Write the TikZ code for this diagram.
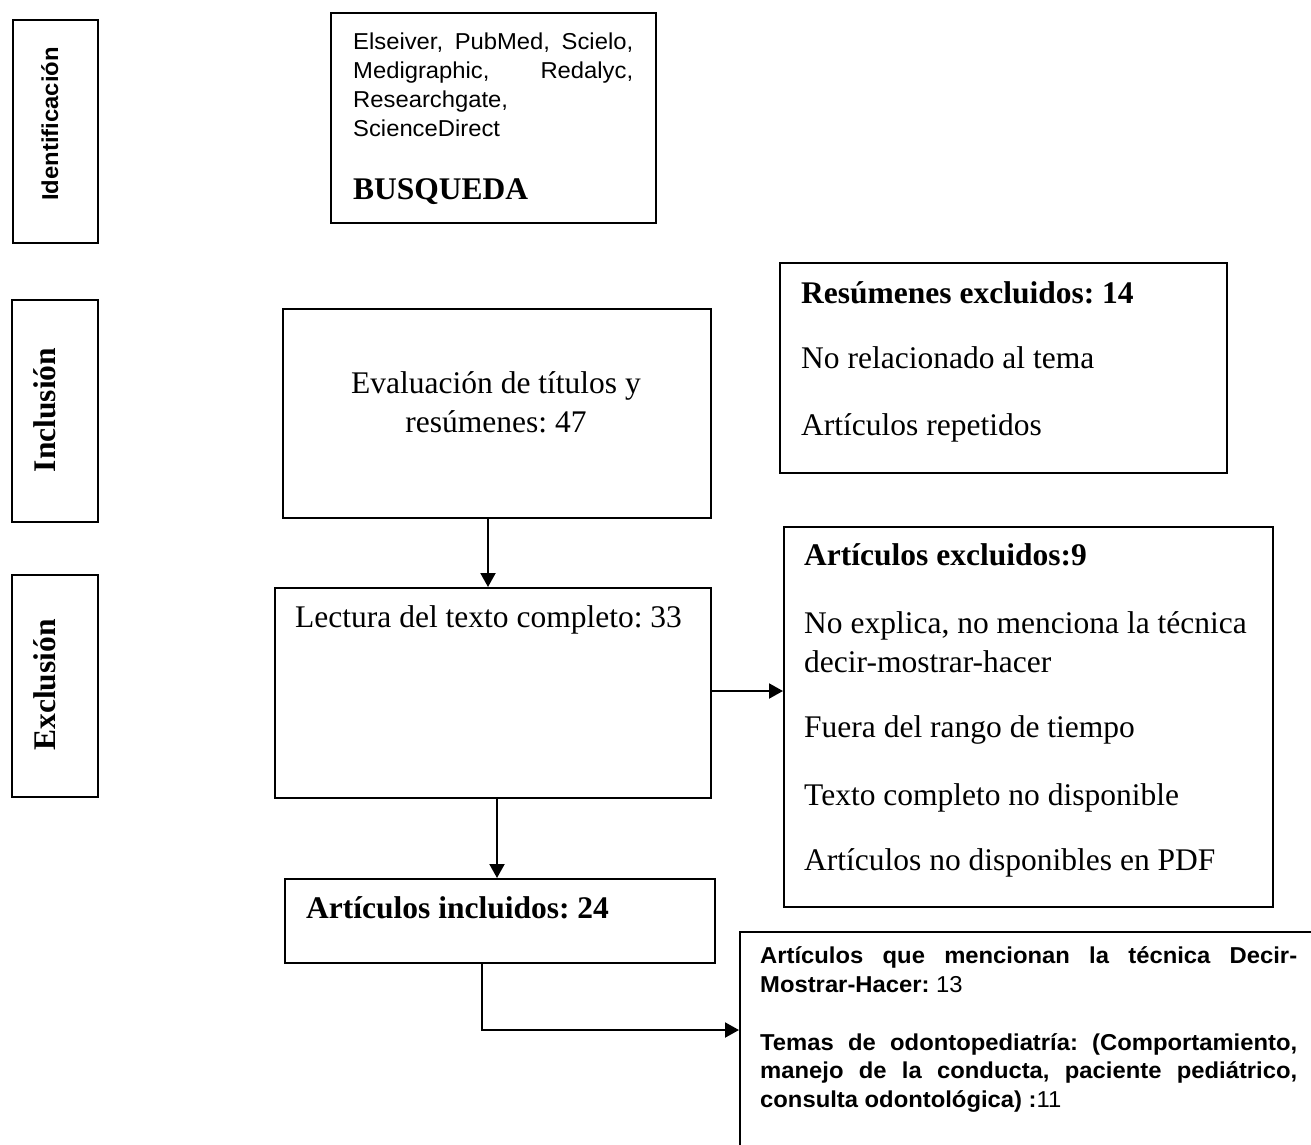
\documentclass[tikz,border=0pt]{standalone}
\usepackage{fontspec}
\setmainfont{Liberation Serif}
\newfontfamily\arialf{Liberation Sans}[FakeStretch=1.035]
\usetikzlibrary{arrows.meta,calc}
\frenchspacing
\begin{document}
\begin{tikzpicture}[x=1pt,y=-1pt,
  box/.style={draw, line width=2pt, rectangle, inner sep=0pt, anchor=north west},
  lbl/.style={inner sep=0pt, anchor=base west},
  ctr/.style={inner sep=0pt, anchor=base},
  tms/.style={font=\fontsize{31.5}{38}\selectfont},
  tmsb/.style={font=\fontsize{31.5}{38}\selectfont\bfseries},
  ar/.style={font=\arialf\fontsize{23}{28.7}\selectfont},
  arb/.style={font=\arialf\bfseries\fontsize{23}{28.7}\selectfont},
  conn/.style={line width=2pt, -{Triangle[length=14pt,width=15pt]}},
  vlab/.style={inner sep=0pt, anchor=base, rotate=90}
]
\useasboundingbox (0,0) rectangle (1311,1144);
\clip (0,0) rectangle (1311,1144);
\fill[white] (0,0) rectangle (1311,1144);

% stage labels
\node[box, minimum width=85pt, minimum height=223pt] (idb) at (12,19) {};
\node[box, minimum width=86pt, minimum height=222pt] (inb) at (11,299) {};
\node[box, minimum width=86pt, minimum height=222pt] (exb) at (11,574) {};
\node[vlab, arb] (idt) at (58,124) {Identificación};
\node[vlab, tmsb] (int) at (55,410) {Inclusión};
\node[vlab, tmsb] (ext) at (55,685) {Exclusión};

% main boxes
\node[box, minimum width=325pt, minimum height=210pt] (busq) at (330,12) {};
\node[box, minimum width=428pt, minimum height=209pt] (eval) at (282,308) {};
\node[box, minimum width=436pt, minimum height=210pt] (lect) at (274,587) {};
\node[box, minimum width=430pt, minimum height=84pt] (incl) at (284,878) {};
\node[box, minimum width=447pt, minimum height=210pt] (resum) at (779,262) {};
\node[box, minimum width=489pt, minimum height=380pt] (artex) at (783,526) {};
\node[box, minimum width=620pt, minimum height=320pt] (fin) at (739,931) {};

% texts: busqueda
\node[lbl, ar] (b1) at (353,49) {\makebox[280pt][s]{Elseiver, PubMed, Scielo,}};
\node[lbl, ar] (b2) at (353,78) {\makebox[280pt][s]{Medigraphic, Redalyc,}};
\node[lbl, ar] (b3) at (353,107) {Researchgate,};
\node[lbl, ar] (b4) at (353,136) {ScienceDirect};
\node[lbl, tmsb] (b5) at (353,199) {BUSQUEDA};

% evaluacion
\node[ctr, tms] (e1) at (496,393) {Evaluación de títulos y};
\node[ctr, tms] (e2) at (496,432) {resúmenes: 47};

% lectura
\node[lbl, tms] (l1) at (295,627) {Lectura del texto completo: 33};

% incluidos
\node[lbl, tmsb] (i1) at (306,918) {Artículos incluidos: 24};

% resumenes excluidos
\node[lbl, tmsb] (r1) at (801,303) {Resúmenes excluidos: 14};
\node[lbl, tms] (r2) at (801,368) {No relacionado al tema};
\node[lbl, tms] (r3) at (801,435) {Artículos repetidos};

% articulos excluidos
\node[lbl, tmsb] (x1) at (804,565) {Artículos excluidos:9};
\node[lbl, tms] (x2) at (804,633) {No explica, no menciona la técnica};
\node[lbl, tms] (x3) at (804,672) {decir-mostrar-hacer};
\node[lbl, tms] (x4) at (804,737) {Fuera del rango de tiempo};
\node[lbl, tms] (x5) at (804,805) {Texto completo no disponible};
\node[lbl, tms] (x6) at (804,870) {Artículos no disponibles en PDF};

% final box
\node[lbl, arb] (f1) at (760,963) {\makebox[537pt][s]{Artículos que mencionan la técnica Decir-}};
\node[lbl, ar] (f2) at (760,992) {{\bfseries Mostrar-Hacer:} 13};
\node[lbl, arb] (f3) at (760,1050) {\makebox[537pt][s]{Temas de odontopediatría: (Comportamiento,}};
\node[lbl, arb] (f4) at (760,1078) {\makebox[537pt][s]{manejo de la conducta, paciente pediátrico,}};
\node[lbl, ar] (f5) at (760,1107) {{\bfseries consulta odontológica) :}11};

% connectors
\coordinate (a1) at ([xshift=-9pt]eval.south);
\draw[conn] (a1) -- (a1 |- lect.north);
\coordinate (a2) at ([yshift=2pt]lect.east);
\draw[conn] (a2) -- (a2 -| artex.west);
\coordinate (a3) at ([xshift=4pt]lect.south);
\draw[conn] (a3) -- (a3 |- incl.north);
\coordinate (a4) at ([xshift=-18pt]incl.south);
\coordinate (a5) at ([xshift=-18pt,yshift=-66pt]incl.south);
\draw[conn] (a4) -- (a5) -- (a5 -| fin.west);
\end{tikzpicture}
\end{document}
